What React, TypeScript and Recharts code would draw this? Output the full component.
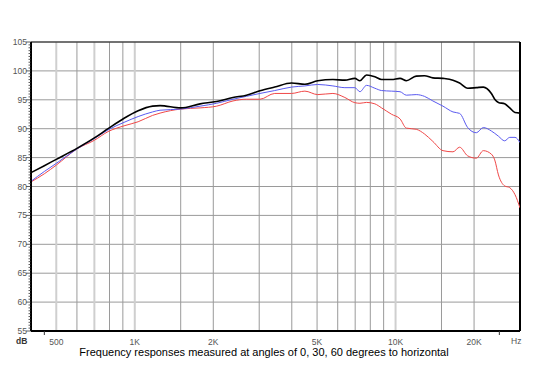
import React from "react";
import { LineChart, Line, XAxis, YAxis, ReferenceLine } from "recharts";

// frequency points (Hz) and measured level (dB) for each angle
const freqs = [
  400, 450, 500, 600, 700, 790, 910, 1030, 1170, 1250, 1500, 1780, 2060, 2380, 2680,
  3020, 3440, 3990, 4490, 5030, 5750, 6390, 6980, 7300, 7740, 8330, 8840, 9650, 10400,
  11000, 12000, 12900, 13900, 15200, 16600, 17600, 18900, 20400, 21700, 23300, 24000,
  24800, 26200, 27400, 28700, 30000,
];
const deg0 = [
  82.4, 83.6, 84.7, 86.6, 88.4, 90.0, 91.8, 93.1, 93.9, 94.0, 93.6, 94.3, 94.7, 95.4, 95.8,
  96.55, 97.2, 97.9, 97.7, 98.3, 98.5, 98.4, 98.7, 98.3, 99.3, 99.0, 98.5, 98.5, 98.7,
  98.3, 99.1, 99.15, 98.8, 98.7, 98.4, 97.9, 97.0, 97.1, 97.2, 96.1, 95.1,
  94.55, 94.3, 93.6, 92.8, 92.7,
];
const deg30 = [
  80.9, 82.6, 84.0, 86.5, 88.3, 89.8, 91.1, 92.1, 92.9, 93.2, 93.4, 93.9, 94.4, 95.1, 95.6,
  96.1, 96.6, 97.2, 97.4, 97.65, 97.4, 97.1, 97.1, 96.4, 97.5, 97.0, 96.6, 96.5, 96.4,
  95.8, 95.9, 95.6, 94.8, 93.9, 92.9, 92.65, 90.2, 89.3, 90.2, 89.6, 89.2,
  88.7, 87.9, 88.5, 88.5, 87.6,
];
const deg60 = [
  80.8, 82.2, 83.7, 86.5, 88.0, 89.5, 90.5, 91.2, 92.3, 92.7, 93.4, 93.6, 93.9, 94.8, 95.1,
  95.1, 96.1, 96.1, 96.5, 95.9, 96.1, 95.4, 94.5, 94.4, 94.55, 94.3, 93.6, 92.5, 91.7,
  90.1, 89.9, 89.1, 87.8, 86.2, 86.0, 86.8, 85.3, 84.9, 86.2, 85.6, 84.6,
  82.0, 80.1, 79.8, 78.6, 76.3,
];

const yLabels = [55, 60, 65, 70, 75, 80, 85, 90, 95, 100, 105];
const xTicks = [450, 500, 1000, 2000, 5000, 10000, 20000, 25000];
const xLabels: Record<number, string> = {
  500: "500",
  1000: "1K",
  2000: "2K",
  5000: "5K",
  10000: "10K",
  20000: "20K",
};
const gridFreqs = [
  500, 600, 700, 800, 900, 1000, 1500, 2000, 3000, 4000, 5000, 6000, 7000, 8000, 9000,
  10000, 15000, 20000,
];
const lightGrid = [500, 700, 1000, 10000];

const data = freqs.map((f, i) => ({ f, d0: deg0[i], d30: deg30[i], d60: deg60[i] }));

// half-dB minor ticks on the level axis
const yTicks = Array.from({ length: 101 }, (_, i) => 55 + i * 0.5);

const font = "'Liberation Sans', Arial, sans-serif";

const YTick = (props: any) => {
  const { x, y, payload } = props;
  const v = payload.value;
  const major = v % 5 === 0;
  return (
    <g>
      <line x1={x - (major ? 5 : 2.5)} x2={x} y1={y} y2={y} stroke="#333" strokeWidth={0.8} />
      {major && (
        <text x={x - 4} y={y} dy={3} textAnchor="end" fontSize={8.5} fill="#555" fontFamily={font}>
          {v}
        </text>
      )}
    </g>
  );
};

const XTick = (props: any) => {
  const { x, y, payload } = props;
  const label = xLabels[payload.value];
  if (!label) {
    return <line x1={x} x2={x} y1={y} y2={y + 4} stroke="#333" strokeWidth={1} />;
  }
  return (
    <text x={x} y={y + 14} textAnchor="middle" fontSize={8.5} fill="#555" fontFamily={font}>
      {label}
    </text>
  );
};

export default function App() {
  return (
    <div style={{ position: "absolute", left: 0, top: 0, width: 542, height: 384, background: "#fff", fontFamily: font }}>
      <LineChart width={542} height={384} data={data} margin={{ top: 42, right: 22, left: 0, bottom: 33 }}>
        {yLabels.slice(1, -1).map((v) => (
          <ReferenceLine key={"h" + v} y={v} stroke="#9a9a9a" strokeWidth={1} />
        ))}
        {gridFreqs.map((f) => (
          <ReferenceLine
            key={"v" + f}
            x={f}
            stroke={lightGrid.includes(f) ? "#cfcfcf" : "#9a9a9a"}
            strokeWidth={lightGrid.includes(f) ? 2 : 1}
          />
        ))}
        <ReferenceLine y={105} stroke="#444" strokeWidth={1.5} />
        <ReferenceLine x={30000} stroke="#000" strokeWidth={2} />
        <XAxis
          dataKey="f"
          type="number"
          scale="log"
          domain={[400, 30000]}
          allowDataOverflow
          ticks={xTicks}
          interval={0}
          height={20}
          tickSize={0}
          tickMargin={0}
          tickLine={false}
          axisLine={{ stroke: "#000", strokeWidth: 2 }}
          tick={<XTick />}
        />
        <YAxis
          type="number"
          domain={[55, 105]}
          ticks={yTicks}
          interval={0}
          width={31}
          tickSize={0}
          tickMargin={0}
          tickLine={false}
          axisLine={{ stroke: "#000", strokeWidth: 2 }}
          tick={<YTick />}
        />
        <Line type="monotone" dataKey="d60" stroke="#f04848" strokeWidth={1} dot={false} isAnimationActive={false} />
        <Line type="monotone" dataKey="d30" stroke="#5a5af0" strokeWidth={1} dot={false} isAnimationActive={false} />
        <Line type="monotone" dataKey="d0" stroke="#000" strokeWidth={1.6} dot={false} isAnimationActive={false} />
      </LineChart>
      <div style={{ position: "absolute", left: 16, top: 336, fontSize: 8.5, fontWeight: "bold", color: "#333" }}>dB</div>
      <div style={{ position: "absolute", left: 511, top: 336, fontSize: 8.5, color: "#555" }}>Hz</div>
      <div style={{ position: "absolute", left: 0, width: 528, top: 346, textAlign: "center", fontSize: 11, color: "#000" }}>
        Frequency responses measured at angles of 0, 30, 60 degrees to horizontal
      </div>
    </div>
  );
}
